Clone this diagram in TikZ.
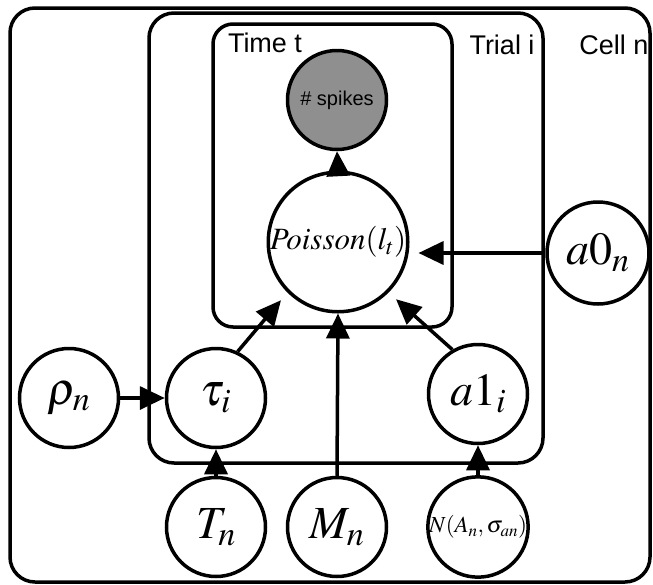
\documentclass[tikz,border=0pt]{standalone}
\usepackage{mathptmx}
\usepackage[no-math]{fontspec}
\setmainfont{Liberation Sans}
\usetikzlibrary{arrows.meta}
\definecolor{obsgray}{RGB}{143,143,143}
\tikzset{
  rv/.style={circle, draw, line width=3.5pt, minimum size=99pt, inner sep=0pt,
             font=\fontsize{46}{50}\selectfont},
  observed/.style={rv, fill=obsgray, font=\fontsize{20}{22}\selectfont},
  plate/.style={draw, line width=3.5pt},
  platelabel/.style={anchor=base, font=\fontsize{27}{30}\selectfont},
  dep/.style={line width=3.5pt, arrows={-Triangle[length=25pt, width=23pt]}},
}
\begin{document}
\begin{tikzpicture}[x=1pt, y=-1pt]
  \useasboundingbox (0,0) rectangle (653,584);

  % plates
  \draw[plate, rounded corners=25pt] (10,8) rectangle (650,582);
  \draw[plate, rounded corners=25pt] (149,13) rectangle (543,463);
  \draw[plate, rounded corners=20pt] (213,24) rectangle (452,327);
  \node[platelabel] (lbltime)  at (265,52) {Time t};
  \node[platelabel] (lbltrial) at (502,54) {Trial i};
  \node[platelabel] (lblcell)  at (614,54) {Cell n};

  % variables
  \node[observed] (spikes) at (337,100) {\# spikes};
  \node[rv, minimum size=130pt, font=\fontsize{31}{33}\selectfont] (pois) at (338,242) {$\mathit{Poisson}(l_t)$};
  \node[rv, minimum size=102pt] (a0) at (598,253) {$a0_n$};
  \node[rv] (rho) at (69,398) {$\rho_n$};
  \node[rv] (tau) at (216,398) {$\tau_i$};
  \node[rv] (a1) at (478,394) {$a1_i$};
  \node[rv] (T) at (216,527) {$T_n$};
  \node[rv] (M) at (337,527) {$M_n$};
  \node[rv, font=\fontsize{23}{25}\selectfont] (N) at (478,527) {$N(A_n,\sigma_{an})$};

  % dependencies
  \draw[dep] (pois.north) -- (spikes.south);
  \draw[dep, shorten >=9pt] (a0.west) -- (pois.east |- a0.west);
  \draw[dep] (rho) -- (tau);
  \draw[dep, shorten >=10pt] (tau.65) -- (pois.225);
  \draw[dep, shorten >=10pt] (a1.120) -- (pois.-45);
  \draw[dep] (M.north) -- (pois.south);
  \draw[dep] (T.north) -- (tau.south);
  \draw[dep] (N.north) -- (a1.south);
\end{tikzpicture}
\end{document}
